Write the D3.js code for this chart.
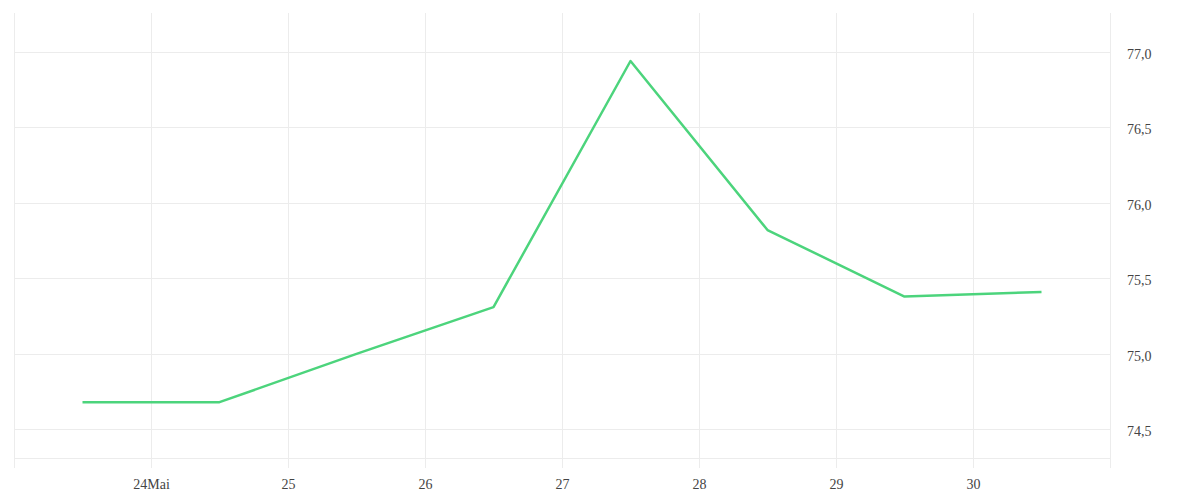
<!DOCTYPE html>
<html>
<head>
<meta charset="utf-8">
<script src="https://d3js.org/d3.v7.min.js"></script>
<style>
  body { margin: 0; background: #fff; }
  .tick text { font-family: "Liberation Serif", serif; font-size: 14px; fill: #444; }
</style>
</head>
<body>
<div id="chart"></div>
<script>
// Data: daily values plotted at mid-day
const days = [23.5, 24.5, 25.5, 26.5, 27.5, 28.5, 29.5, 30.5];
const values = [74.68, 74.68, 75.0, 75.31, 76.94, 75.82, 75.38, 75.41];
const xTicks = [24, 25, 26, 27, 28, 29, 30];
const xTickLabels = ["24Mai", "25", "26", "27", "28", "29", "30"];
const yTicks = [74.5, 75.0, 75.5, 76.0, 76.5, 77.0];

const W = 1200, H = 500;
const plot = { left: 14, right: 1110, top: 13, bottom: 468 };

const svg = d3.select("#chart").append("svg")
  .attr("width", W).attr("height", H);

const x = d3.scaleLinear().domain([23, 31]).range([plot.left, plot.right]);
const y = d3.scaleLinear().domain([74.244, 77.258]).range([plot.bottom, plot.top]);

const grid = "#ececec";

// vertical grid (every day incl. edges)
svg.append("g").selectAll("line")
  .data(d3.range(23, 32))
  .join("line")
  .attr("x1", d => x(d) + 0.5).attr("x2", d => x(d) + 0.5)
  .attr("y1", plot.top).attr("y2", plot.bottom)
  .attr("stroke", grid);

// horizontal grid
svg.append("g").selectAll("line")
  .data(yTicks)
  .join("line")
  .attr("x1", plot.left).attr("x2", plot.right)
  .attr("y1", d => Math.round(y(d)) + 0.5).attr("y2", d => Math.round(y(d)) + 0.5)
  .attr("stroke", grid);

// bottom base line
svg.append("line")
  .attr("x1", plot.left).attr("x2", plot.right)
  .attr("y1", plot.bottom - 9.5).attr("y2", plot.bottom - 9.5)
  .attr("stroke", grid);

// axes
const ax = svg.append("g")
  .attr("transform", `translate(0,${plot.bottom + 3})`)
  .call(d3.axisBottom(x).tickValues(xTicks).tickSize(0).tickPadding(8)
    .tickFormat((d, i) => xTickLabels[i]));
ax.select(".domain").remove();

const ay = svg.append("g")
  .attr("transform", `translate(${plot.right + 9},2)`)
  .call(d3.axisRight(y).tickValues(yTicks).tickSize(0).tickPadding(8)
    .tickFormat(d => d3.format(".1f")(d).replace(".", ",")));
ay.select(".domain").remove();

// line
svg.append("path")
  .datum(days.map((d, i) => [d, values[i]]))
  .attr("fill", "none")
  .attr("stroke", "#4cd47c")
  .attr("stroke-width", 2.5)
  .attr("stroke-linejoin", "round")
  .attr("d", d3.line().x(d => x(d[0])).y(d => y(d[1])));
</script>
</body>
</html>
